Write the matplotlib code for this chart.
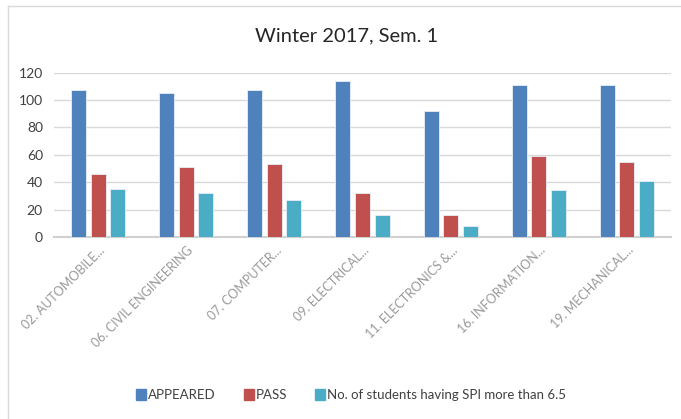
import matplotlib
matplotlib.use("Agg")
import matplotlib.pyplot as plt
import matplotlib.transforms as mtransforms
import numpy as np
from matplotlib.lines import Line2D

plt.rcParams['font.family'] = ['Lato', 'DejaVu Sans']

categories = ["02. AUTOMOBILE...", "06. CIVIL ENGINEERING", "07. COMPUTER...",
              "09. ELECTRICAL...", "11. ELECTRONICS &...", "16. INFORMATION...",
              "19. MECHANICAL..."]
appeared = [107, 105, 107, 114, 92, 111, 111]
passed = [46, 51, 53, 32, 16, 59, 55]
spi = [35, 32, 27, 16, 8, 34, 41]
series_names = ["APPEARED", "PASS", "No. of students having SPI more than 6.5"]
colors = ["#4F81BD", "#C0504D", "#4BACC6"]

W, H = 681, 419
fig = plt.figure(figsize=(W / 100, H / 100), dpi=100)
ax = fig.add_axes([54 / W, (H - 237) / H, (671 - 54) / W, (237 - 72.7) / H])

x = np.arange(len(categories))
bw = 0.17
step = 0.222
for i, (vals, name, c) in enumerate(zip([appeared, passed, spi], series_names, colors)):
    ax.bar(x + (i - 1) * step, vals, width=bw, color=c, edgecolor="#e8eef8",
           linewidth=0.6, label=name, zorder=3)

ax.set_xlim(-0.5, len(categories) - 0.5)
ax.set_ylim(0, 120)
ax.set_yticks(range(0, 121, 20))
ax.yaxis.grid(True, color="#d9d9d9", linewidth=1.0, zorder=0)
ax.set_axisbelow(True)
for s in ["left", "right", "top"]:
    ax.spines[s].set_visible(False)
ax.spines["bottom"].set_color("#d0d0d0")
ax.spines["bottom"].set_linewidth(1.5)
ax.tick_params(axis="y", length=0, labelsize=10, labelcolor="#404040", pad=8)
ax.tick_params(axis="x", length=0, pad=8)
ax.set_xticks(x)
ax.set_xticklabels(categories, rotation=45, ha="right", va="center",
                   rotation_mode="anchor", fontsize=9, color="#999999")
offset = mtransforms.ScaledTranslation(5 / 100, 0, fig.dpi_scale_trans)
for lbl in ax.get_xticklabels():
    lbl.set_transform(lbl.get_transform() + offset)

fig.text(347 / W, 1 - 36 / H, "Winter 2017, Sem. 1", ha="center", va="center",
         fontsize=14.5, color="#262626")

handles = [plt.Rectangle((0, 0), 1, 1, color=c) for c in colors]
fig.legend(handles, series_names, loc="center", bbox_to_anchor=(351 / W, 1 - 395 / H),
           ncol=3, frameon=False, fontsize=9.5, handlelength=0.75, handleheight=0.9,
           handletextpad=0.15, columnspacing=2.1, labelcolor="#404040")

# chart frame (left and top edges)
fig.add_artist(Line2D([8 / W, 8 / W], [0, 1 - 6 / H], transform=fig.transFigure,
                      color="#d9d9d9", linewidth=1))
fig.add_artist(Line2D([8 / W, 1], [1 - 6 / H, 1 - 6 / H], transform=fig.transFigure,
                      color="#d9d9d9", linewidth=1))

fig.savefig("out.png", dpi=100)
